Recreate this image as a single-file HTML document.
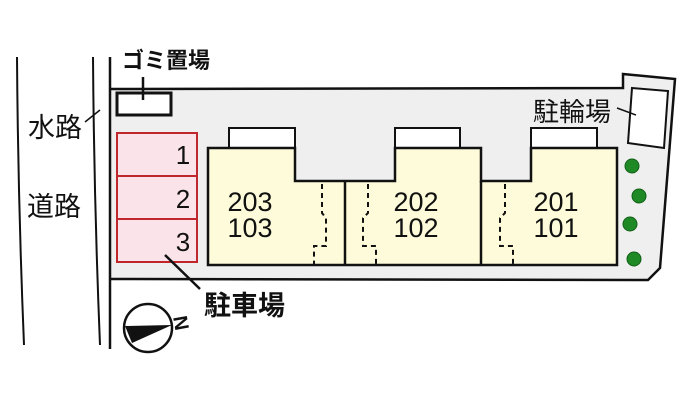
<!DOCTYPE html>
<html><head><meta charset="utf-8"><style>
html,body{margin:0;padding:0;background:#fff;}
svg{display:block}
text{font-family:"Liberation Sans","Noto Sans CJK JP",sans-serif;}
</style></head><body>
<svg width="700" height="405" viewBox="0 0 700 405" xmlns="http://www.w3.org/2000/svg">
<path d="M110,89 L623,88 L623,74 L675,79 L660,268 L648,280 L110,279 Z" fill="#efefef"/>
<path d="M110,89 L623,88 L623,74 L675,79 L660,268 L648,280 L110,279" fill="none" stroke="#111" stroke-width="2.5"/>
<path d="M17,57 Q18,200 24,345" fill="none" stroke="#111" stroke-width="2"/>
<path d="M93,57 Q94,200 100,345" fill="none" stroke="#111" stroke-width="2"/>
<path d="M110,57 L110,349" fill="none" stroke="#111" stroke-width="2.5"/>
<rect x="117" y="93" width="54" height="22" fill="#fff" stroke="#111" stroke-width="3"/>
<line x1="143" y1="77" x2="143" y2="100" stroke="#111" stroke-width="2.5"/>
<text x="122" y="68" font-size="22" font-weight="bold" fill="#111">ゴミ置場</text>
<g fill="#fbe3ea" stroke="#c0272d" stroke-width="2">
<rect x="117" y="133" width="80" height="43"/>
<rect x="117" y="176" width="80" height="43"/>
<rect x="117" y="219" width="80" height="43"/>
</g>
<g font-size="26" fill="#111" text-anchor="middle">
<text x="183" y="164">1</text><text x="183" y="208">2</text><text x="183" y="251">3</text>
</g>
<line x1="165" y1="255" x2="200" y2="289" stroke="#111" stroke-width="2.5"/>
<text x="204" y="315" font-size="27" font-weight="bold" fill="#111">駐車場</text>
<g fill="#fff" stroke="#111" stroke-width="2">
<rect x="229" y="128" width="66" height="20"/>
<rect x="395" y="128" width="65" height="20"/>
<rect x="531" y="128" width="66" height="20"/>
</g>
<path d="M208,148 L295,148 L295,181 L395,181 L395,148 L481,148 L481,181 L531,181 L531,148 L617,148 L617,265 L208,265 Z" fill="#fdfbd9" stroke="#111" stroke-width="2.5"/>
<line x1="345" y1="181" x2="345" y2="265" stroke="#111" stroke-width="2.5"/>
<line x1="481" y1="181" x2="481" y2="265" stroke="#111" stroke-width="2.5"/>
<g fill="none" stroke="#111" stroke-width="2" stroke-dasharray="5,4">
<path d="M322,184 L322,213 L326,218 L326,246 L314,246 L314,265"/>
<path d="M368,184 L368,213 L363,218 L363,246 L376,246 L376,265"/>
<path d="M505,184 L505,213 L500,218 L500,246 L513,246 L513,265"/>
</g>
<g font-size="27" fill="#111" text-anchor="middle">
<text x="250" y="211">203</text><text x="250" y="237">103</text>
<text x="416" y="211">202</text><text x="416" y="237">102</text>
<text x="556" y="211">201</text><text x="556" y="237">101</text>
</g>
<path d="M632,88 L668,91 L664,148 L628,143 Z" fill="#fff" stroke="#111" stroke-width="2"/>
<line x1="617" y1="108" x2="636" y2="115" stroke="#111" stroke-width="1.5"/>
<text x="533" y="121" font-size="26" fill="#111">駐輪場</text>
<g fill="#1f8a25" stroke="#116016" stroke-width="1">
<circle cx="632" cy="166" r="7"/><circle cx="639" cy="196" r="7"/>
<circle cx="630" cy="224" r="7"/><circle cx="634" cy="259" r="7"/>
</g>
<text x="28" y="137" font-size="27" fill="#111">水路</text>
<line x1="85" y1="122" x2="100" y2="110" stroke="#111" stroke-width="1.5"/>
<text x="27" y="216" font-size="27" fill="#111">道路</text>
<circle cx="148" cy="328" r="24" fill="#fff" stroke="#111" stroke-width="2.5"/>
<path d="M125,326 L172,325 L132,343 Z" fill="#111"/>
<text x="181" y="330" font-size="20" font-weight="bold" fill="#111" text-anchor="middle" transform="rotate(-100 181 323)">N</text>
</svg>
</body></html>
